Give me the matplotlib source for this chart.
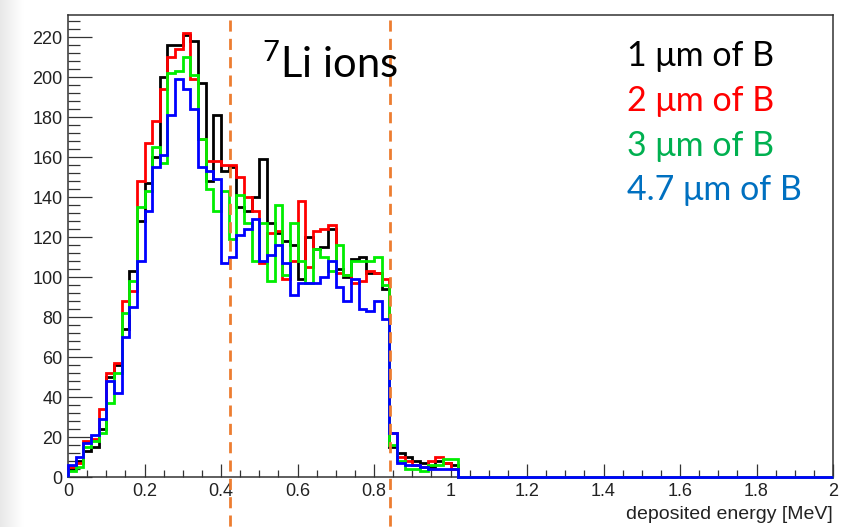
import numpy as np
import matplotlib
matplotlib.use('Agg')
import matplotlib.pyplot as plt
import matplotlib.transforms as mtransforms
from matplotlib.ticker import MultipleLocator, FormatStrFormatter

# 100 bins of 0.02 MeV between 0 and 2 MeV, only the first 51 are filled
n_bins = 100
e_min, e_max = 0.0, 2.0

counts_1um = [4, 8, 13, 15, 24, 50, 56, 74, 103, 128,
              147, 160, 200, 216, 216, 221, 218, 197, 148, 181,
              153, 155, 135, 133, 140, 159, 127, 122, 118, 116,
              99, 120, 114, 115, 124, 104, 100, 109, 110, 102,
              102, 94, 15, 12, 10, 8, 7, 5, 8, 7, 6]
counts_2um = [5, 7, 18, 19, 34, 52, 57, 88, 93, 148,
              167, 178, 194, 210, 214, 222, 199, 169, 158, 158,
              156, 156, 150, 140, 133, 107, 122, 123, 99, 108,
              138, 105, 123, 124, 126, 102, 101, 97, 98, 103,
              102, 99, 22, 10, 8, 6, 5, 8, 10, 7, 4]
counts_3um = [3, 5, 15, 18, 22, 37, 52, 82, 98, 135,
              143, 165, 157, 202, 203, 210, 201, 169, 144, 133,
              143, 119, 141, 127, 108, 127, 98, 136, 101, 127,
              108, 97, 114, 110, 103, 116, 101, 108, 108, 108,
              110, 96, 16, 8, 4, 4, 3, 6, 6, 9, 9]
counts_47um = [6, 10, 17, 21, 29, 48, 42, 70, 85, 108,
               133, 155, 161, 181, 199, 194, 184, 155, 153, 149,
               107, 110, 121, 124, 129, 108, 111, 116, 107, 91,
               97, 97, 97, 100, 108, 95, 88, 99, 84, 83,
               88, 79, 22, 7, 6, 6, 5, 4, 4, 4, 4]

labels = ['1 \u03bcm of B', '2 \u03bcm of B', '3 \u03bcm of B', '4.7 \u03bcm of B']
line_colors = ['black', '#ff0000', '#00ee00', '#0000ff']
text_colors = ['black', '#ff0000', '#00b050', '#0070c0']

cuts = [0.4227, 0.8408]

plt.rcParams['mathtext.fontset'] = 'custom'
plt.rcParams['mathtext.rm'] = 'Lato'

W, H = 856, 527
fig = plt.figure(figsize=(W / 100, H / 100), dpi=100)

# light grey shadow on the left edge
bg = fig.add_axes([0, 0, 24 / W, 1], zorder=-5)
grad = np.linspace(0.91, 1.0, 64).reshape(1, -1)
bg.imshow(grad, aspect='auto', cmap='gray', vmin=0, vmax=1, extent=[0, 1, 0, 1])
bg.axis('off')

ax = fig.add_axes([68 / W, 50 / H, 765 / W, 462 / H])
edges = np.linspace(e_min, e_max, n_bins + 1)
for counts, col in zip([counts_1um, counts_2um, counts_3um, counts_47um], line_colors):
    vals = np.zeros(n_bins)
    vals[:len(counts)] = counts
    ax.stairs(vals, edges, color=col, lw=2.0, baseline=0, clip_on=False, zorder=3)

ax.set_xlim(e_min, e_max)
ax.set_ylim(0, 231)

ax.xaxis.set_major_locator(MultipleLocator(0.2))
ax.xaxis.set_minor_locator(MultipleLocator(0.05))
ax.xaxis.set_major_formatter(FormatStrFormatter('%g'))
ax.yaxis.set_major_locator(MultipleLocator(20))
ax.yaxis.set_minor_locator(MultipleLocator(4))

ax.tick_params(axis='both', which='both', direction='in', colors='#333333',
               top=False, right=False, width=0.9)
ax.tick_params(axis='x', which='major', length=9.5, pad=4)
ax.tick_params(axis='x', which='minor', length=5)
ax.tick_params(axis='y', which='major', length=17, pad=4)
ax.tick_params(axis='y', which='minor', length=8.5)
for lab in ax.get_xticklabels() + ax.get_yticklabels():
    lab.set_fontfamily('Liberation Sans')
    lab.set_fontsize(13)
    lab.set_color('#222222')
for sp in ax.spines.values():
    sp.set_color('#333333')
    sp.set_linewidth(1.1)

# dashed cut lines, running past the frame down to the bottom of the slide
trans = mtransforms.blended_transform_factory(ax.transData, ax.transAxes)
for c in cuts:
    ax.plot([c, c], [(477 - 20) / 462, (477 - 527) / 462], transform=trans,
            color='#ed7d31', lw=2, ls=(0, (4, 2.6)), clip_on=False, zorder=4)

fig.text(833 / W, 1 - 519 / H, 'deposited energy [MeV]', ha='right', va='baseline',
         fontfamily='Liberation Sans', fontsize=14, color='#222222')

txt_fonts = ['Lato', 'DejaVu Sans']
fig.text(262 / W, 1 - 78 / H, '$^{7}$Li ions', ha='left', va='baseline',
         fontfamily=txt_fonts, fontsize=30, color='black')

base_y = [66, 111, 156, 200]
for lab, col, yb in zip(labels, text_colors, base_y):
    fig.text(627 / W, 1 - yb / H, lab, ha='left', va='baseline',
             fontfamily=txt_fonts, fontsize=24.5, color=col)

fig.savefig('out.png', dpi=100)
